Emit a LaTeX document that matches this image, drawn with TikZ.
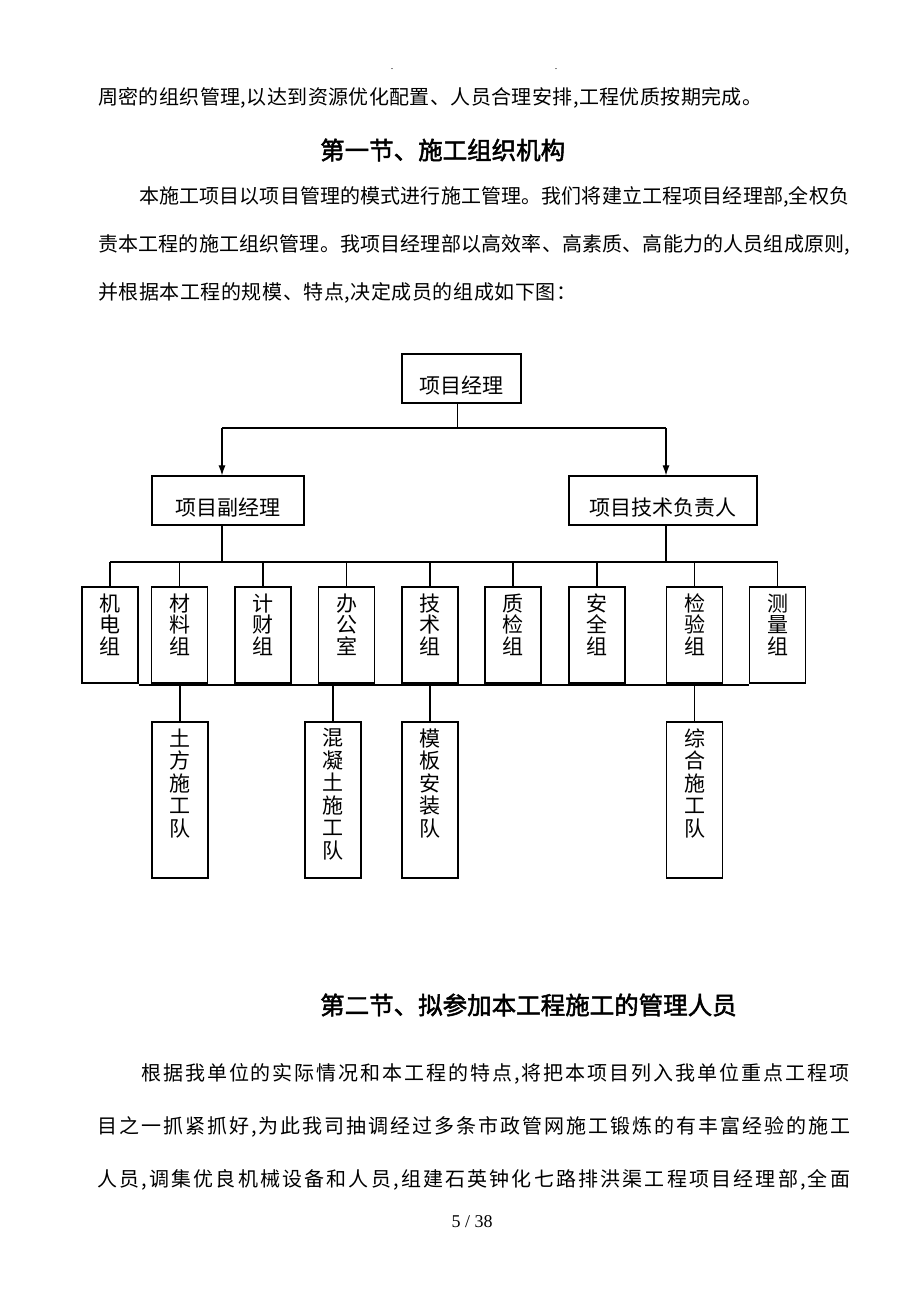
\documentclass[tikz,border=0pt]{standalone}
\usepackage{fontspec}
\setmainfont{Liberation Serif}
\newfontfamily\cjk{Noto Sans CJK SC}
\newfontfamily\cjkb{Noto Sans CJK SC}[FakeBold=2]
\usetikzlibrary{arrows.meta}
\makeatletter
\def\spreadit#1{\spread@a#1\relax}
\def\spread@a#1{#1\futurelet\spread@n\spread@b}
\def\spread@b{\ifx\spread@n\relax\expandafter\@gobble\else\hskip0pt plus1fil\relax\expandafter\spread@a\fi}
\makeatother
\newcommand\sline[2]{\makebox[#1pt][s]{\spreadit{#2}}}
\begin{document}
\begin{tikzpicture}[x=1pt,y=-1pt,
  box/.style={draw, line width=1.2pt, inner sep=0pt},
  conn/.style={line width=1.1pt},
  arr/.style={conn, -{Latex[length=10pt,width=7pt]}},
  body/.style={font=\cjk\fontsize{20}{20}\selectfont, inner sep=0pt, anchor=west},
  head/.style={font=\cjkb\fontsize{24.5}{24.5}\selectfont, inner sep=0pt, anchor=west},
  htxt/.style={font=\cjk\fontsize{21}{21}\selectfont, inner sep=0pt},
  gtxt/.style={font=\cjk\fontsize{21}{21.5}\selectfont, inner sep=0pt, align=center, anchor=north},
  ttxt/.style={font=\cjk\fontsize{21}{22.5}\selectfont, inner sep=0pt, align=center, anchor=north},
  gbox/.style={box, minimum width=56pt, minimum height=96pt},
  tbox/.style={box, minimum width=56pt, minimum height=156pt}]
\fill[white] (0,0) rectangle (920,1302);
\useasboundingbox (0,0) rectangle (920,1302);

% top dots
\node[font=\fontsize{10}{10}\selectfont, inner sep=0pt, anchor=base] (d1) at (392,69) {.};
\node[font=\fontsize{10}{10}\selectfont, inner sep=0pt, anchor=base] (d2) at (556,69) {.};

% text above
\node[body] (l1) at (98,98) {\sline{664}{周密的组织管理,以达到资源优化配置、人员合理安排,工程优质按期完成。}};
\node[head] (h1) at (320,150) {第一节、施工组织机构};
\node[body] (l2) at (139,197) {\sline{710}{本施工项目以项目管理的模式进行施工管理。我们将建立工程项目经理部,全权负}};
\node[body] (l3) at (98,245) {\sline{752}{责本工程的施工组织管理。我项目经理部以高效率、高素质、高能力的人员组成原则,}};
\node[body] (l4) at (98,293) {\sline{478}{并根据本工程的规模、特点,决定成员的组成如下图：}};

% level 1 and 2
\node[box, minimum width=119pt, minimum height=49pt] (pm) at (461.5,378.5) {};
\node[htxt] at (461.5,386) {项目经理};
\node[box, minimum width=152pt, minimum height=49pt] (dep) at (228,500.5) {};
\node[htxt] at (228,508) {项目副经理};
\node[box, minimum width=188pt, minimum height=49pt] (tech) at (663,500.5) {};
\node[htxt] at (663,508) {项目技术负责人};

% groups
\foreach \n/\x/\t in {jd/110/机\\电\\组, cl/179.5/材\\料\\组, jc/263/计\\财\\组, bg/346.5/办\\公\\室, js/430/技\\术\\组, zj/513/质\\检\\组, aq/597/安\\全\\组, jy/694.5/检\\验\\组, cliang/777.5/测\\量\\组}{
  \node[gbox] (\n) at (\x,635) {};
  \node[gtxt] at ([yshift=-7pt]\n.north) {\t};
}

% teams
\foreach \n/\x/\t in {tf/180/土\\方\\施\\工\\队, hnt/333/混\\凝\\土\\施\\工\\队, mb/430/模\\板\\安\\装\\队, zh/694.5/综\\合\\施\\工\\队}{
  \node[tbox] (\n) at (\x,800) {};
  \node[ttxt] at ([yshift=-7pt]\n.north) {\t};
}

% connectors
\coordinate (t1) at (222,428);
\coordinate (t2) at (666,428);
\coordinate (mb1) at (0,562);
\coordinate (lb) at (0,685);
\draw[conn] ([xshift=-4pt]pm.south) -- ([xshift=-4pt]pm.south |- t1);
\draw[conn] (t1) -- (t2);
\draw[arr] (t1) -- (t1 |- dep.north);
\draw[arr] (t2) -- (t2 |- tech.north);
\draw[conn] (t1 |- dep.south) -- (t1 |- mb1);
\draw[conn] (t2 |- tech.south) -- (t2 |- mb1);
\draw[conn] (jd.north |- mb1) -- (cliang.north |- mb1);
\foreach \n in {jd,cl,jc,bg,js,zj,aq,jy,cliang}{
  \draw[conn] (\n.north |- mb1) -- (\n.north);
}
\draw[conn] (jd.east |- lb) -- (cliang.west |- lb);
\foreach \n in {tf,hnt,mb,zh}{
  \draw[conn] (\n.north |- lb) -- (\n.north);
}

% text below
\node[head] (h2) at (320,1005) {第二节、拟参加本工程施工的管理人员};
\node[body] (m1) at (141,1074) {\sline{708}{根据我单位的实际情况和本工程的特点,将把本项目列入我单位重点工程项}};
\node[body] (m2) at (97,1127) {\sline{753}{目之一抓紧抓好,为此我司抽调经过多条市政管网施工锻炼的有丰富经验的施工}};
\node[body] (m3) at (97,1180) {\sline{753}{人员,调集优良机械设备和人员,组建石英钟化七路排洪渠工程项目经理部,全面}};
\node[font=\fontsize{18}{18}\selectfont, inner sep=0pt] (pg) at (472,1222) {5 / 38};
\end{tikzpicture}
\end{document}
